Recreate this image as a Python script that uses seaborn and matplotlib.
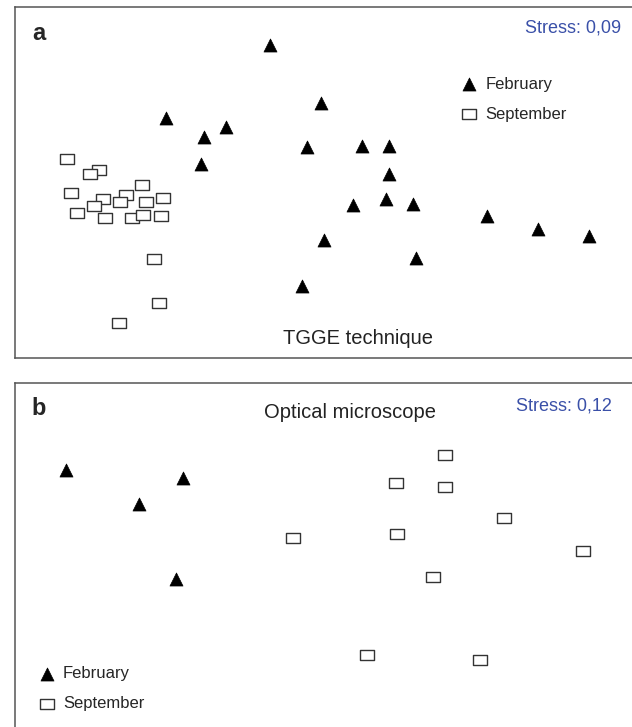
import matplotlib
matplotlib.use("Agg")
import matplotlib.pyplot as plt
import seaborn as sns
import pandas as pd
from matplotlib.path import Path

sns.set_theme(style="white")
plt.rcParams["font.family"] = ["Liberation Sans", "DejaVu Sans"]

# NMDS ordination coordinates
# panel a: TGGE technique
a_feb_x = [-0.30, 0.21, -1.34, -0.96, -0.74, 0.07, 0.62, 0.89, -0.99, 0.89,
           0.53, 0.86, 1.13, 1.87, 2.38, 2.89, 0.24, 1.16, 0.02]
a_feb_y = [1.40, 0.82, 0.67, 0.48, 0.58, 0.38, 0.39, 0.39, 0.21, 0.11,
           -0.20, -0.14, -0.19, -0.31, -0.44, -0.51, -0.55, -0.73, -1.01]
a_sep_x = [-2.33, -2.01, -2.10, -2.29, -1.58, -1.74, -1.97, -1.37, -1.54, -1.80,
           -2.06, -2.23, -1.95, -1.68, -1.57, -1.39, -1.46, -1.41, -1.81]
a_sep_y = [0.26, 0.15, 0.11, -0.08, 0.00, -0.10, -0.14, -0.13, -0.17, -0.17,
           -0.21, -0.28, -0.33, -0.33, -0.30, -0.31, -0.74, -1.18, -1.38]

# panel b: optical microscope
b_feb_x = [-2.34, -1.17, -1.61, -1.24]
b_feb_y = [0.90, 0.82, 0.56, -0.19]
b_sep_x = [-0.07, 1.45, 0.96, 1.45, 2.04, 0.97, 2.83, 1.33, 0.67, 1.80]
b_sep_y = [0.22, 1.05, 0.77, 0.73, 0.42, 0.26, 0.09, -0.17, -0.95, -1.00]

months = ["February", "September"]
stress_a = "Stress: 0,09"
stress_b = "Stress: 0,12"


def make_df(fx, fy, sx, sy):
    return pd.DataFrame({
        "NMDS1": fx + sx,
        "NMDS2": fy + sy,
        "month": [months[0]] * len(fx) + [months[1]] * len(sx),
    })


df_a = make_df(a_feb_x, a_feb_y, a_sep_x, a_sep_y)
df_b = make_df(b_feb_x, b_feb_y, b_sep_x, b_sep_y)

# slightly wide rectangle for the open markers
rect = Path([(-1, -0.8), (1, -0.8), (1, 0.8), (-1, 0.8), (-1, -0.8)],
            [Path.MOVETO, Path.LINETO, Path.LINETO, Path.LINETO, Path.CLOSEPOLY])
styles = {
    "February": dict(marker="^", s=88, color="black", edgecolor="black", linewidth=0.5),
    "September": dict(marker=rect, s=92, color="white", edgecolor="#333333", linewidth=1.0),
}

W, H = 632, 727
fig = plt.figure(figsize=(W / 100, H / 100), dpi=100)
# both panels run off the right edge (panel b also off the bottom)
ax_a = fig.add_axes([15 / W, 1 - 358 / H, 625 / W, 351 / H])
ax_b = fig.add_axes([15 / W, 1 - 740 / H, 625 / W, 357 / H])


def draw(ax, df):
    for m in months:
        sub = df[df["month"] == m]
        sns.scatterplot(data=sub, x="NMDS1", y="NMDS2", ax=ax, label=m, **styles[m])
    ax.set_xticks([])
    ax.set_yticks([])
    ax.set_xlabel("")
    ax.set_ylabel("")
    for sp in ax.spines.values():
        sp.set_color("#555555")
        sp.set_linewidth(1.1)


draw(ax_a, df_a)
ax_a.set_xlim(-2.85, 3.40)
ax_a.set_ylim(-1.73, 1.78)
draw(ax_b, df_b)
ax_b.set_xlim(-2.85, 3.40)
ax_b.set_ylim(-1.80, 1.77)

blue = "#3a50a8"
ax_a.text(0.027, 0.906, "a", transform=ax_a.transAxes, fontsize=17,
          fontweight="bold", ha="left", va="baseline")
ax_a.text(0.970, 0.926, stress_a, transform=ax_a.transAxes, fontsize=13,
          color=blue, ha="right", va="baseline")
ax_a.text(0.549, 0.040, "TGGE technique", transform=ax_a.transAxes,
          fontsize=14.5, color="#222222", ha="center", va="baseline")

ax_b.text(0.027, 0.910, "b", transform=ax_b.transAxes, fontsize=17,
          fontweight="bold", ha="left", va="baseline")
ax_b.text(0.955, 0.922, stress_b, transform=ax_b.transAxes, fontsize=13,
          color=blue, ha="right", va="baseline")
ax_b.text(0.536, 0.902, "Optical microscope", transform=ax_b.transAxes,
          fontsize=14.5, color="#222222", ha="center", va="baseline")

leg_kw = dict(frameon=False, fontsize=12, handlelength=1.0, handletextpad=0.45,
              labelspacing=0.9, borderpad=0, borderaxespad=0, loc="upper left",
              markerscale=1.0)
ax_a.legend(bbox_to_anchor=(0.7136, 0.801), **leg_kw)
ax_b.legend(bbox_to_anchor=(0.038, 0.2074), **leg_kw)

fig.savefig("out.png", dpi=100)
